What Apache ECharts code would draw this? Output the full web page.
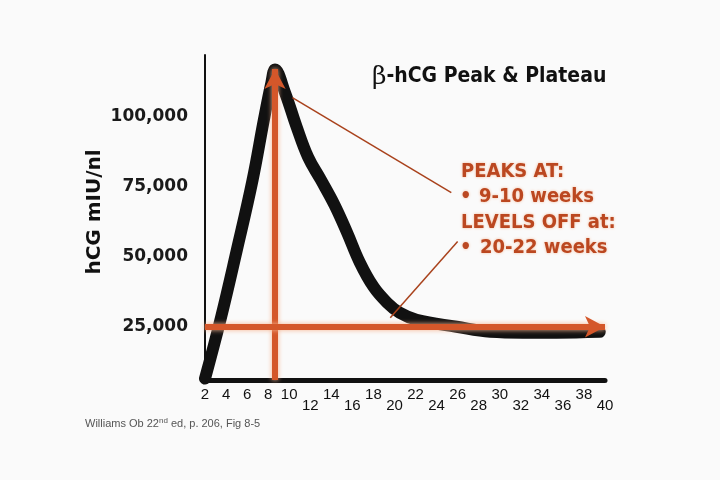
<!DOCTYPE html>
<html>
<head>
<meta charset="utf-8">
<script src="https://cdn.jsdelivr.net/npm/echarts@6/dist/echarts.min.js"></script>
<style>
  html, body { margin: 0; padding: 0; background: #fafafa; }
  #main { width: 720px; height: 480px; }
</style>
</head>
<body>
<div id="main"></div>
<script>
// weeks of gestation and hCG level (mIU/ml)
var weeks = [2, 3.5, 5.0, 6.5, 7.6, 8.3, 8.65, 9.6, 10.7, 11.8, 13.0, 14.3, 15.5, 16.7, 18.0, 19.3, 20.5, 22.1, 25.9, 29.1, 32.2, 35.4, 39.5];
var hcg = [6500, 28000, 52000, 77000, 99000, 112000, 116800, 108600, 96400, 85500, 77500, 68500, 58600, 48000, 39300, 33600, 30000, 27500, 25000, 23200, 22900, 22900, 23200];
var yTicks = [25000, 50000, 75000, 100000];
var peakWeek = 8.65;
var peakValue = 117000;
var plateauValue = 25000;
var notes = ['PEAKS AT:', '9-10 weeks', 'LEVELS OFF at:', '20-22 weeks'];

var chart = echarts.init(document.getElementById('main'));
var orange = '#d4572a';
var noteColor = '#bb4720';
var noteGlow = '#f4bb9a';
var noteFont = 'bold 20px "DejaVu Sans Condensed", "DejaVu Sans", sans-serif';

function note(x, y, text) {
    return {
        type: 'text', x: x, y: y,
        style: { text: text, font: noteFont, fill: noteColor, verticalAlign: 'middle', textShadowColor: noteGlow, textShadowBlur: 3 }
    };
}

var option = {
    backgroundColor: '#fafafa',
    animation: false,
    grid: { left: 205, right: 115, top: 55, bottom: 100 },
    xAxis: {
        type: 'value',
        min: 2,
        max: 40,
        interval: 2,
        splitLine: { show: false },
        axisTick: { show: false },
        axisLine: { lineStyle: { color: '#111', width: 5 } },
        axisLabel: {
            margin: 7,
            showMinLabel: true,
            showMaxLabel: true,
            formatter: function (v) {
                return (v >= 12 && v % 4 === 0) ? '{lo|' + v + '}' : '{hi|' + v + '}';
            },
            rich: {
                hi: { fontSize: 15, color: '#111', fontFamily: 'Liberation Sans' },
                lo: { fontSize: 15, color: '#111', fontFamily: 'Liberation Sans', padding: [11, 0, 0, 0] }
            }
        }
    },
    yAxis: {
        type: 'value',
        min: 6000,
        max: 122000,
        splitLine: { show: false },
        axisTick: { show: false },
        axisLine: { show: true, lineStyle: { color: '#111', width: 2 } },
        axisLabel: {
            customValues: yTicks,
            margin: 17,
            fontSize: 17,
            fontWeight: 'bold',
            fontFamily: 'DejaVu Sans',
            color: '#1a1a1a',
            formatter: function (v) { return v.toLocaleString('en-US'); }
        }
    },
    series: [{
        type: 'line',
        data: weeks.map(function (w, i) { return [w, hcg[i]]; }),
        smooth: 0.4,
        symbol: 'none',
        lineStyle: { color: '#111', width: 12, cap: 'round', join: 'round' },
        z: 2
    }, {
        type: 'line',
        data: [],
        z: 5,
        markLine: {
            silent: true,
            animation: false,
            label: { show: false },
            data: [
                [{ coord: [peakWeek, 6000], symbol: 'none' },
                 { coord: [peakWeek, peakValue], symbol: 'arrow', symbolSize: [16, 20] }],
                [{ coord: [2, plateauValue], symbol: 'none' },
                 { coord: [40, plateauValue], symbol: 'arrow', symbolSize: [16, 20] }]
            ],
            lineStyle: { color: orange, width: 6, type: 'solid', shadowColor: '#f7b48f', shadowBlur: 5 }
        }
    }, {
        type: 'line',
        data: [],
        z: 4,
        markLine: {
            silent: true,
            animation: false,
            symbol: 'none',
            label: { show: false },
            data: [
                [{ coord: [10.3, 106800] }, { coord: [25.4, 72900] }],
                [{ coord: [19.6, 28200] }, { coord: [26.0, 55400] }]
            ],
            lineStyle: { color: '#a9421c', width: 1.5, type: 'solid' }
        }
    }],
    graphic: [
        {
            type: 'text', x: 372, y: 77,
            style: {
                text: '{b|β}{t|-hCG Peak & Plateau}',
                verticalAlign: 'middle',
                rich: {
                    b: { font: '25px "DejaVu Serif"', fill: '#111' },
                    t: { font: 'bold 21px "DejaVu Sans Condensed", "DejaVu Sans"', fill: '#111' }
                }
            }
        },
        {
            type: 'text', x: 95, y: 212, rotation: Math.PI / 2,
            style: {
                text: 'hCG mIU/nl', align: 'center', verticalAlign: 'middle',
                font: 'bold 20px "DejaVu Sans"', fill: '#111'
            }
        },
        note(461, 172, notes[0]),
        note(460, 197, '•'),
        note(479, 197, notes[1]),
        note(461, 223, notes[2]),
        note(460, 248, '•'),
        note(480, 248, notes[3]),
        {
            type: 'text', x: 85, y: 423,
            style: {
                text: '{a|Williams Ob 22}{s|nd}{a| ed, p. 206, Fig 8-5}',
                verticalAlign: 'middle',
                rich: {
                    a: { font: '11px "Liberation Sans"', fill: '#555', verticalAlign: 'bottom' },
                    s: { font: '8px "Liberation Sans"', fill: '#555', verticalAlign: 'bottom', padding: [0, 0, 5, 0] }
                }
            }
        }
    ]
};
chart.setOption(option);
</script>
</body>
</html>
